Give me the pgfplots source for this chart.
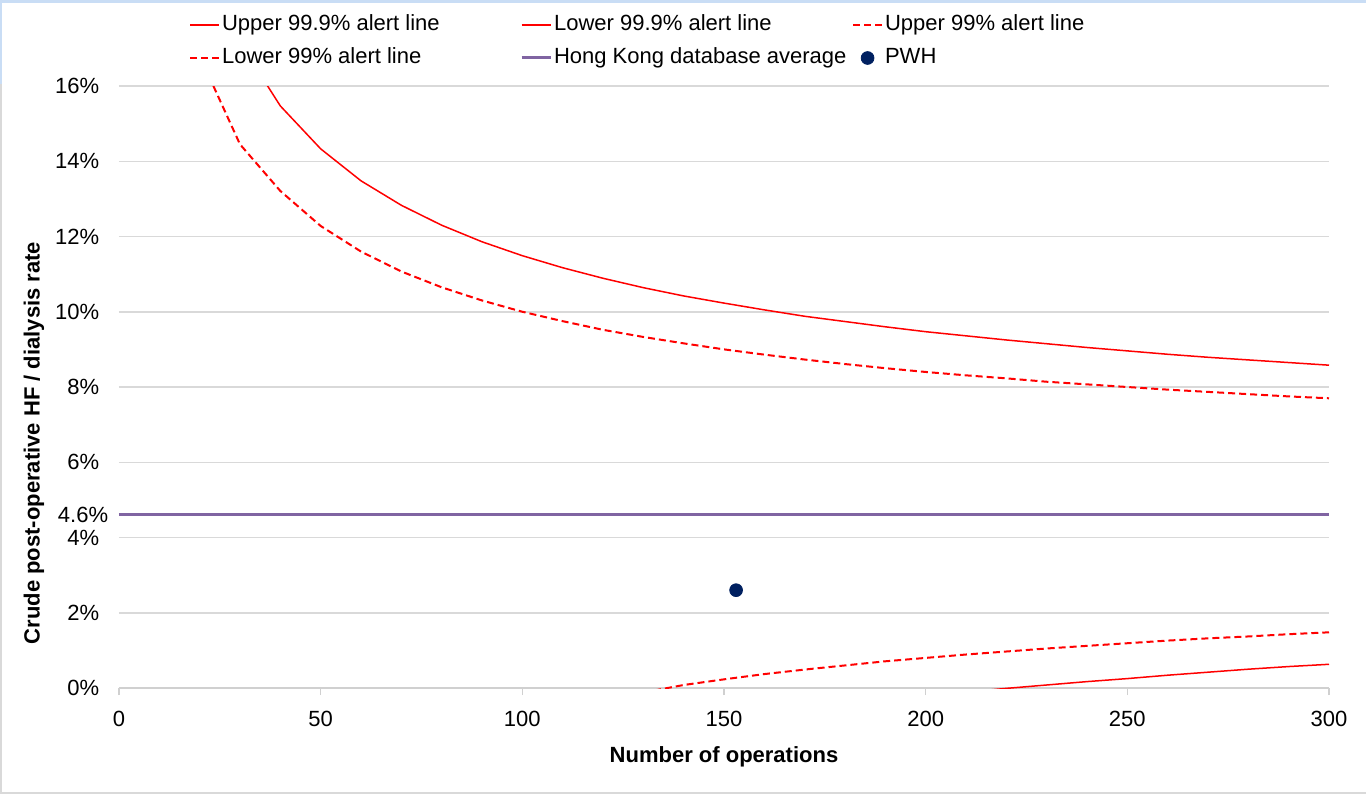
\documentclass[border=0pt]{standalone}
\usepackage{fontspec}
\setmainfont{Liberation Sans}
\usepackage{pgfplots}
\pgfplotsset{compat=1.18}
\definecolor{gridc}{HTML}{D9D9D9}
\definecolor{axc}{HTML}{D0D0D0}
\definecolor{hkpurple}{HTML}{8064A2}
\definecolor{pwhblue}{HTML}{002060}
\definecolor{edgeblue}{HTML}{C9DDF5}
\begin{document}
\fontsize{11}{13}\selectfont
\begin{tikzpicture}
\path[use as bounding box] (-59.5pt,-53pt) rectangle (623.5pt,344pt);
\draw[gridc, line width=0.8pt] (-59.1pt,302pt) -- (-59.1pt,-52.6pt) -- (623.5pt,-52.6pt);
\draw[edgeblue, line width=1.6pt] (-59.5pt,343.2pt) -- (623.5pt,343.2pt);
\draw[edgeblue, line width=0.8pt] (-59.1pt,343pt) -- (-59.1pt,302pt);
\begin{axis}[
  scale only axis, width=605pt, height=301pt,
  xmin=0, xmax=300, ymin=0, ymax=16,
  axis lines*=left,
  x axis line style={draw=axc, line width=0.75pt, -},
  y axis line style={draw=none},
  xtick={0,50,...,300}, ytick={0,2,...,16},
  tick align=outside, major tick length=3.5pt,
  xtick style={draw=axc, line width=0.75pt},
  ytick style={draw=none},
  ymajorgrids, grid style={draw=gridc, line width=0.75pt},
  yticklabel={\pgfmathprintnumber{\tick}\%},
  extra y ticks={4.6}, extra y tick labels={4.6\%},
  extra y tick style={grid=none, tick style={draw=none}, yticklabel style={xshift=4.5pt}},
  /pgf/number format/assume math mode=true,
  tick label style={font=\fontsize{11}{13}\selectfont},
  yticklabel style={inner sep=0pt, xshift=-6.25pt},
  xticklabel style={yshift=-4pt},
  xlabel={\textbf{Number of operations}},
  ylabel={\textbf{Crude post-operative HF / dialysis rate}},
  xlabel style={at={(axis description cs:0.5,-0.1146)}, anchor=center, font=\fontsize{11}{13}\selectfont},
  ylabel style={at={(axis description cs:-0.0702,0.407)}, anchor=center, font=\fontsize{11}{13}\selectfont},
  legend columns=3,
  legend cell align=left,
  legend image code/.code={\draw[mark repeat=2,mark phase=2,#1] plot coordinates {(0pt,0pt) (7.25pt,0pt) (14.5pt,0pt)};},
  legend style={draw=none, fill=none, inner sep=0pt, outer sep=0pt,
    at={(axis description cs:0.0579,1.1221)}, anchor=north west,
    row sep=4pt, column sep=0pt,
    nodes={inner sep=1pt, text height=8pt, text depth=2.5pt, font=\fontsize{11}{13}\selectfont}},
]
% Upper 99.9%
\addplot[red, line width=0.75pt] coordinates {
(20,19.95) (30,17.15) (40,15.47) (50,14.33) (60,13.48) (70,12.83) (80,12.30) (90,11.86) (100,11.49)
(110,11.17) (120,10.89) (130,10.64) (140,10.42) (150,10.23) (160,10.05) (170,9.88) (180,9.74) (190,9.60)
(200,9.47) (210,9.36) (220,9.25) (230,9.15) (240,9.05) (250,8.96) (260,8.87) (270,8.79) (280,8.72) (290,8.65) (300,8.58)};
\addlegendentry{\makebox[148pt][l]{Upper 99.9\% alert line}}
% Lower 99.9%
\addplot[red, line width=0.75pt] coordinates {
(210,-0.11) (220,-0.01) (230,0.08) (240,0.17) (250,0.25) (260,0.34) (270,0.42) (280,0.50) (290,0.57) (300,0.63)};
\addlegendentry{\makebox[148pt][l]{Lower 99.9\% alert line}}
% Upper 99%
\addplot[red, line width=1pt, dash pattern=on 3.5pt off 2pt] coordinates {
(20,16.80) (30,14.45) (40,13.21) (50,12.28) (60,11.60) (70,11.07) (80,10.65) (90,10.30) (100,10.00)
(110,9.75) (120,9.52) (130,9.33) (140,9.16) (150,9.00) (160,8.86) (170,8.73) (180,8.61) (190,8.50)
(200,8.40) (210,8.31) (220,8.23) (230,8.14) (240,8.07) (250,8.00) (260,7.93) (270,7.87) (280,7.81) (290,7.75) (300,7.70)};
\addlegendentry{\makebox[148pt][l]{Upper 99\% alert line}}
% Lower 99%
\addplot[red, line width=1pt, dash pattern=on 3.5pt off 2pt] coordinates {
(130,-0.12) (140,0.08) (150,0.23) (160,0.37) (170,0.49) (180,0.60) (190,0.71)
(200,0.80) (210,0.89) (220,0.97) (230,1.05) (240,1.12) (250,1.19) (260,1.26) (270,1.32) (280,1.37) (290,1.43) (300,1.48)};
\addlegendentry{\makebox[148pt][l]{Lower 99\% alert line}}
% HK average
\addplot[hkpurple, line width=1.5pt] coordinates {(0,4.6) (300,4.6)};
\addlegendentry{\makebox[148pt][l]{Hong Kong database average}}
% PWH
\addplot[only marks, mark=*, mark size=3.2pt, color=pwhblue] coordinates {(153,2.60)};
\addlegendentry{\makebox[148pt][l]{PWH}}
\end{axis}
\end{tikzpicture}
\end{document}
